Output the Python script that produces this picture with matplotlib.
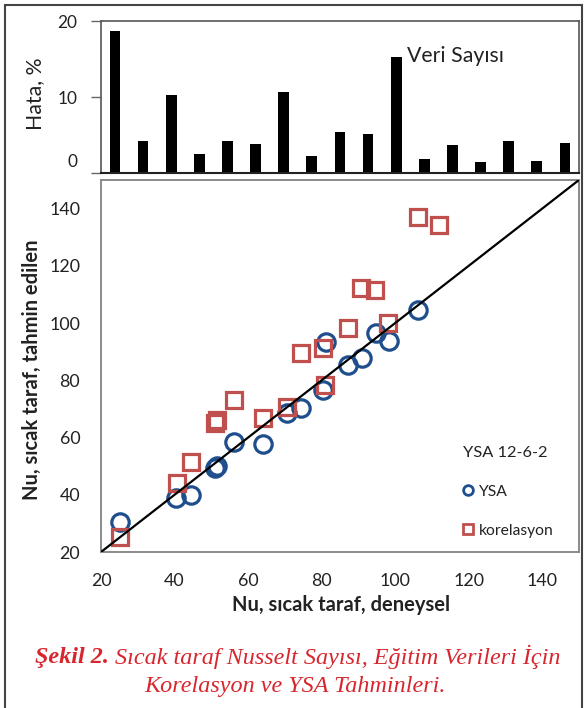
import matplotlib
matplotlib.use("Agg")
import matplotlib.pyplot as plt
from matplotlib.lines import Line2D
from matplotlib.patches import Rectangle
from matplotlib.transforms import ScaledTranslation

# ---------------- data ----------------
bar_index = list(range(1, 18))
hata = [18.7, 4.25, 10.3, 2.5, 4.25, 3.8, 10.7, 2.2, 5.4, 5.2, 15.3, 1.9, 3.7, 1.45, 4.25, 1.6, 3.9]
hata_ticks = [0, 10, 20]

ysa_x = [25.2, 40.4, 44.4, 51.0, 51.5, 56.2, 64.1, 70.5, 74.3, 80.4, 81.1, 87.3, 91.1, 94.8, 98.4, 106.3]
ysa_y = [30.5, 38.9, 39.9, 49.5, 50.2, 58.4, 57.6, 68.5, 70.2, 76.6, 93.5, 85.3, 87.7, 96.4, 93.8, 104.6]

kor_x = [25.2, 40.6, 44.4, 51.0, 51.5, 56.2, 64.1, 70.5, 74.3, 80.4, 80.9, 87.2, 90.8, 94.5, 98.1, 106.3, 112.0]
kor_y = [25.3, 44.0, 51.6, 65.0, 66.3, 73.1, 66.7, 70.6, 89.4, 91.2, 78.3, 98.2, 112.1, 111.5, 99.9, 137.2, 134.3]

ref_line = [20, 150]
nu_ticks = [20, 40, 60, 80, 100, 120, 140]

BLUE = "#1f4e8c"
RED = "#c0504d"
CAP_RED = "#d7262e"
FONT = ["Lato", "DejaVu Sans"]
plt.rcParams["font.family"] = FONT

fig = plt.figure(figsize=(5.85, 7.08), dpi=100)
renderer = fig.canvas.get_renderer()


def fit(txt, target_px, vertical=False):
    bb = txt.get_window_extent(renderer)
    cur = bb.height if vertical else bb.width
    txt.set_fontsize(txt.get_fontsize() * target_px / cur)
    return txt.get_fontsize()


# outer border
fig.patches.append(Rectangle((0.0085, -0.05), 0.9865, 1.043, transform=fig.transFigure,
                             fill=False, edgecolor="#444444", lw=1.5))

# ---------------- top bar chart ----------------
ax1 = fig.add_axes([0.1726, 0.7556, 0.817, 0.2147])
ax1.bar(bar_index, hata, width=0.38, color="black")
ax1.set_xlim(0.5, 17.5)
ax1.set_ylim(0, 20)
ax1.set_yticks(hata_ticks)
ax1.set_yticklabels([str(t) for t in hata_ticks])
ax1.set_xticks([])
ax1.tick_params(axis="y", direction="out", length=7, width=1, color="#666666", pad=10,
                labelsize=12, labelcolor="#222222")
for s in ["top", "right", "left"]:
    ax1.spines[s].set_color("#555555")
    ax1.spines[s].set_linewidth(1.2)
ax1.spines["bottom"].set_color("#222222")
ax1.spines["bottom"].set_linewidth(1.5)
yl1 = ax1.set_ylabel("Hata, %", fontsize=12, color="#222222")
ax1.yaxis.set_label_coords(-0.117, 0.52)
vs = ax1.text(11.38, 14.6, "Veri Sayısı", fontsize=12, va="baseline", ha="left", color="#222222")

# ---------------- scatter chart ----------------
ax2 = fig.add_axes([0.1726, 0.2203, 0.817, 0.5254])
ax2.plot(ref_line, ref_line, color="black", lw=1.6, zorder=3)
ax2.plot(ysa_x, ysa_y, linestyle="none", marker="o", markersize=12.5, markerfacecolor="none",
         markeredgecolor=BLUE, markeredgewidth=2.3, zorder=2)
ax2.plot(kor_x, kor_y, linestyle="none", marker="s", markersize=12, markerfacecolor="none",
         markeredgecolor=RED, markeredgewidth=2.3, zorder=2)
ax2.set_xlim(20, 150)
ax2.set_ylim(20, 150)
ax2.set_xticks(nu_ticks)
ax2.set_yticks(nu_ticks)
ax2.tick_params(axis="both", length=0, labelsize=12, pad=15, labelcolor="#222222")
for s in ax2.spines.values():
    s.set_color("#8a8a8a")
    s.set_linewidth(1.4)
xl2 = ax2.set_xlabel("Nu, sıcak taraf, deneysel", fontsize=12, fontweight="bold", color="#222222")
yl2 = ax2.set_ylabel("Nu, sıcak taraf, tahmin edilen", fontsize=12, fontweight="bold", color="#222222")
ax2.xaxis.set_label_coords(0.503, -0.116)
ax2.yaxis.set_label_coords(-0.124, 0.489)

# caption
cap1a = fig.text(0, 0.072, "Şekil 2.", fontsize=15, family="Liberation Serif", style="italic",
                 weight="bold", color=CAP_RED, ha="left", va="center")
cap1b = fig.text(0, 0.072, " Sıcak taraf Nusselt Sayısı, Eğitim Verileri İçin", fontsize=15,
                 family="Liberation Serif", style="italic", color=CAP_RED, ha="left", va="center")
cap2 = fig.text(0.505, 0.031, "Korelasyon ve YSA Tahminleri.", fontsize=15, family="Liberation Serif",
                style="italic", color=CAP_RED, ha="center", va="center")

# sizing probes for the legend texts
probe_title = fig.text(0, 0, "YSA 12-6-2", fontsize=12)
probe_entry = fig.text(0, 0, "korelasyon", fontsize=11)

fig.canvas.draw()

# ---- size texts to the reference extents ----
lab20 = [t for t in ax1.get_yticklabels() if t.get_text() == "20"][0]
ax1.tick_params(axis="y", labelsize=fit(lab20, 20))
fit(yl1, 72, vertical=True)
fit(vs, 96)
lab140 = [t for t in ax2.get_yticklabels() if t.get_text() == "140"][0]
ax2.tick_params(axis="both", labelsize=fit(lab140, 31))
yl2.set_fontsize(fit(xl2, 217))
title_fs = fit(probe_title, 84)
entry_fs = fit(probe_entry, 75)
probe_title.remove()
probe_entry.remove()

# caption line 1 width 525 px, centred at x = 298
wa = cap1a.get_window_extent(renderer).width
wb = cap1b.get_window_extent(renderer).width
k = 525 / (wa + wb)
cs = cap1a.get_fontsize() * k
cap1a.set_fontsize(cs)
cap1b.set_fontsize(cs)
cap2.set_fontsize(cs)
fig.canvas.draw()
wa = cap1a.get_window_extent(renderer).width
wb = cap1b.get_window_extent(renderer).width
x0 = 298 - (wa + wb) / 2
cap1a.set_x(x0 / fig.bbox.width)
cap1b.set_x((x0 + wa) / fig.bbox.width)

# legend
handles = [
    Line2D([], [], linestyle="none", marker="o", markersize=7, markerfacecolor="none",
           markeredgecolor=BLUE, markeredgewidth=2),
    Line2D([], [], linestyle="none", marker="s", markersize=7.5, markerfacecolor="none",
           markeredgecolor=RED, markeredgewidth=2),
]
leg = ax2.legend(handles, ["YSA", "korelasyon"], title="YSA 12-6-2", loc="upper left",
                 bbox_to_anchor=(0.757, 0.285), frameon=False, fontsize=entry_fs,
                 title_fontsize=title_fs, labelspacing=1.58, handlelength=0.7, handletextpad=0.35,
                 borderaxespad=0, borderpad=0, alignment="left")
for t in leg.get_texts():
    t.set_color("#222222")
leg.get_title().set_color("#222222")
fig.canvas.draw()

# shift the "0" label of top chart up as in reference
for lbl in ax1.get_yticklabels():
    if lbl.get_text() == "0":
        lbl.set_transform(lbl.get_transform() + ScaledTranslation(0, 13 / 100, fig.dpi_scale_trans))

fig.savefig("out.png", dpi=100)
